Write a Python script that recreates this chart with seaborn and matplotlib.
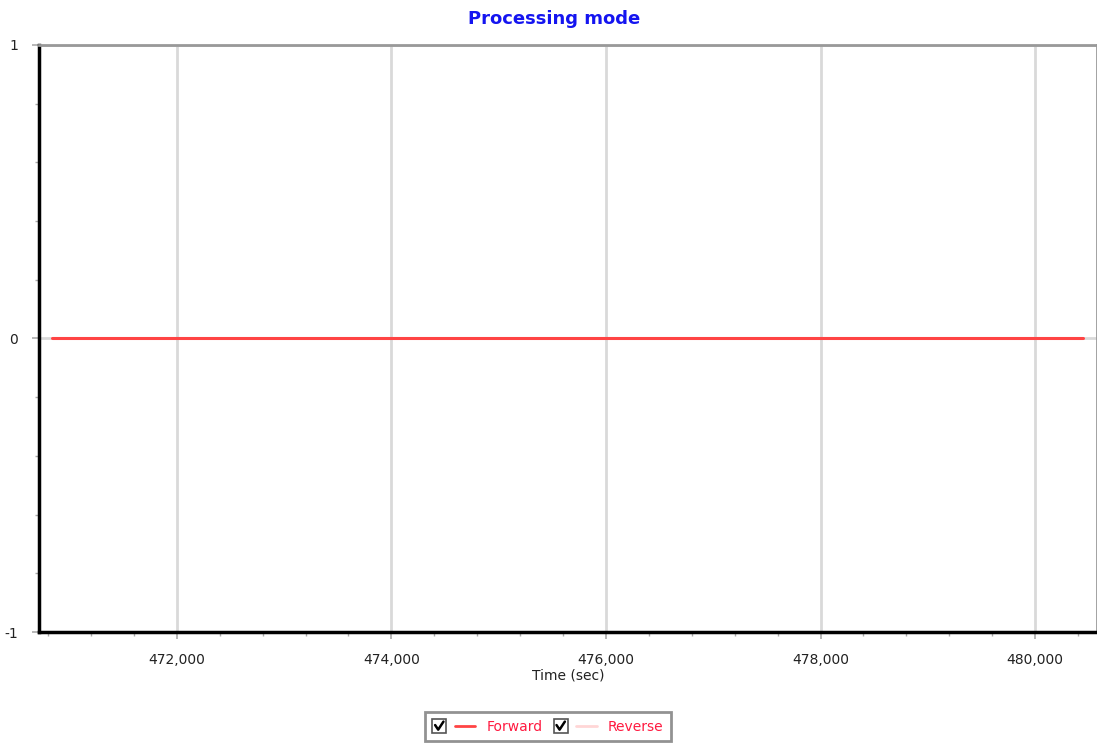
import numpy as np
import pandas as pd
import matplotlib
matplotlib.use("Agg")
import matplotlib.pyplot as plt
import seaborn as sns
from matplotlib.legend_handler import HandlerLine2D
from matplotlib.patches import Rectangle
from matplotlib.lines import Line2D
from matplotlib.ticker import MultipleLocator, FuncFormatter

# data
time_sec = [470840, 472000, 474000, 476000, 478000, 480000, 480450]
forward = [0, 0, 0, 0, 0, 0, 0]
reverse = [0, 0, 0, 0, 0, 0, 0]
series_names = ["Forward", "Reverse"]
series_colors = ["#ff4444", "#ffd6d6"]

df = pd.DataFrame({
    "Time (sec)": time_sec * 2,
    "value": forward + reverse,
    "series": ["Forward"] * len(time_sec) + ["Reverse"] * len(time_sec),
})

sns.set_style("white")
plt.rcParams["font.family"] = ["DejaVu Sans"]

fig = plt.figure(figsize=(10.97, 7.46), dpi=100)
ax = fig.add_axes([0.0356, 0.1528, 0.9644, 0.7869])

# reverse drawn first so forward sits on top
sns.lineplot(data=df[df.series == "Reverse"], x="Time (sec)", y="value",
             color=series_colors[1], lw=2, ax=ax, legend=False, zorder=3)
sns.lineplot(data=df[df.series == "Forward"], x="Time (sec)", y="value",
             color=series_colors[0], lw=2.2, ax=ax, legend=False, zorder=4)

ax.set_xlim(470716, 480577)
ax.set_ylim(-1.0, 1.0)

ax.xaxis.set_major_locator(MultipleLocator(2000))
ax.xaxis.set_minor_locator(MultipleLocator(400))
ax.yaxis.set_major_locator(MultipleLocator(1))
ax.yaxis.set_minor_locator(MultipleLocator(0.2))
ax.xaxis.set_major_formatter(FuncFormatter(lambda v, p: f"{int(v):,}"))
ax.yaxis.set_major_formatter(FuncFormatter(lambda v, p: f"{int(v)}"))

ax.grid(True, which="major", color="#d9d9d9", lw=2, zorder=0)
ax.tick_params(which="major", direction="out", length=5, width=1.2,
               color="#aaaaaa", labelsize=10, labelcolor="#222222")
ax.tick_params(axis="x", which="major", pad=10)
ax.tick_params(axis="y", which="major", pad=10)
ax.tick_params(which="minor", direction="out", length=3, width=1,
               color="#aaaaaa")
ax.tick_params(axis="x", which="both", bottom=True)
ax.tick_params(axis="y", which="both", left=True)

for side in ["left", "bottom"]:
    ax.spines[side].set_color("black")
    ax.spines[side].set_linewidth(2.5)
for side in ["top", "right"]:
    ax.spines[side].set_color("#999999")
    ax.spines[side].set_linewidth(2)

ax.set_xlabel("Time (sec)", fontsize=10, color="#222222", labelpad=1)
ax.set_ylabel("")
fig.text(0.505, 0.986, "Processing mode", ha="center", va="top",
         fontsize=13, fontweight="bold", color="#1414f0")


class CheckHandler(HandlerLine2D):
    def create_artists(self, legend, orig_handle, xdescent, ydescent,
                       width, height, fontsize, trans):
        box = 10
        y0 = -ydescent + (height - box) / 2
        rect = Rectangle((-xdescent, y0), box, box, facecolor="white",
                         edgecolor="#555555", lw=1.2, transform=trans)
        check = Line2D([-xdescent + box * 0.2, -xdescent + box * 0.42,
                        -xdescent + box * 0.8],
                       [y0 + box * 0.55, y0 + box * 0.22, y0 + box * 0.8],
                       color="black", lw=1.8, transform=trans)
        xs = -xdescent + box + 6
        ym = -ydescent + height / 2
        line = Line2D([xs, xs + 15], [ym, ym], color=orig_handle.get_color(),
                      lw=orig_handle.get_linewidth(), transform=trans)
        return [rect, check, line]


handles = [Line2D([], [], color=c, lw=2) for c in series_colors]
leg = fig.legend(handles, series_names, loc="upper center",
                 bbox_to_anchor=(0.4995, 0.0456), ncol=2, fontsize=10,
                 frameon=True, fancybox=False, handlelength=3.0,
                 handletextpad=0.9, columnspacing=0.8, borderpad=0.55,
                 borderaxespad=0, handler_map={Line2D: CheckHandler()})
leg.get_frame().set_edgecolor("#777777")
leg.get_frame().set_linewidth(2)
for t in leg.get_texts():
    t.set_color("#ff1a40")

fig.savefig("out.png", dpi=100)
